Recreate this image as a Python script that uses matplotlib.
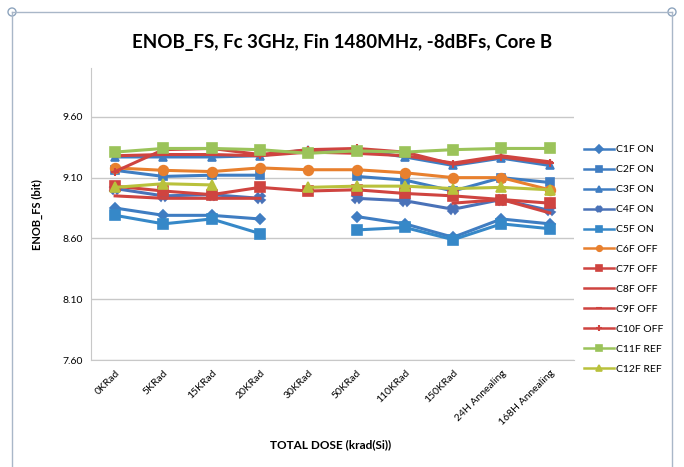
import numpy as np
import matplotlib
matplotlib.use("Agg")
import matplotlib.pyplot as plt
from matplotlib.lines import Line2D
from matplotlib.patches import Circle

nan = np.nan

categories = ["0KRad", "5KRad", "15KRad", "20KRad", "30KRad", "50KRad",
              "110KRad", "150KRad", "24H Annealing", "168H Annealing"]

c1f_on = [8.85, 8.79, 8.79, 8.76, nan, 8.78, 8.72, 8.61, 8.76, 8.72]
c2f_on = [9.16, 9.11, 9.12, 9.12, nan, 9.11, 9.08, 8.99, 9.10, 9.06]
c3f_on = [9.27, 9.27, 9.27, 9.28, 9.33, 9.33, 9.27, 9.20, 9.26, 9.20]
c4f_on = [9.01, 8.95, 8.96, 8.93, nan, 8.93, 8.91, 8.84, 8.92, 8.83]
c5f_on = [8.79, 8.72, 8.76, 8.64, nan, 8.67, 8.69, 8.59, 8.72, 8.68]
c6f_off = [9.18, 9.16, 9.15, 9.18, 9.165, 9.165, 9.14, 9.10, 9.10, 9.00]
c7f_off = [9.03, 8.99, 8.96, 9.02, 8.99, 9.00, 8.97, 8.95, 8.92, 8.89]
c8f_off = [8.95, 8.93, 8.93, 8.93, nan, nan, nan, 8.89, 8.92, 8.81]
c9f_off = [9.28, 9.29, 9.29, 9.28, 9.31, 9.30, 9.28, 9.22, 9.28, 9.23]
c10f_off = [9.15, 9.33, 9.34, 9.29, 9.33, 9.34, 9.31, 9.21, 9.27, 9.22]
c11f_ref = [9.31, 9.34, 9.34, 9.33, 9.30, 9.32, 9.31, 9.33, 9.34, 9.34]
c12f_ref = [9.02, 9.05, 9.04, nan, 9.02, 9.03, 9.03, 9.01, 9.02, 9.00]

y_ticks = [7.60, 8.10, 8.60, 9.10, 9.60]

blue = "#3F7DC2"
blue2 = "#4A72B8"
orange = "#E8802E"
red = "#CF4440"
green = "#9BC35A"
yellow = "#B9C13C"

series = [
    ("C1F ON", c1f_on, blue, "D", 5),
    ("C2F ON", c2f_on, blue, "s", 6),
    ("C3F ON", c3f_on, blue, "^", 6),
    ("C4F ON", c4f_on, blue2, "X", 7),
    ("C5F ON", c5f_on, "#3688C8", "s", 7),
    ("C6F OFF", c6f_off, orange, "o", 7),
    ("C7F OFF", c7f_off, red, "s", 7),
    ("C8F OFF", c8f_off, red, None, 0),
    ("C9F OFF", c9f_off, red, "_", 5),
    ("C10F OFF", c10f_off, red, "+", 6),
    ("C11F REF", c11f_ref, green, "s", 7),
    ("C12F REF", c12f_ref, yellow, "^", 7),
]

plt.rcParams["font.family"] = ["Lato", "DejaVu Sans"]

fig = plt.figure(figsize=(6.84, 4.67), dpi=100)
fig.patch.set_facecolor("white")
ax = fig.add_axes([0.133, 0.229, 0.706, 0.625])

x = np.arange(len(categories))
for name, vals, col, mk, ms in series:
    ax.plot(x, vals, color=col, lw=2.2, marker=mk, markersize=ms,
            markeredgewidth=1.2 if mk not in ("+", "_") else 1.5,
            label=name, zorder=3)

ax.set_xlim(-0.5, len(categories) - 0.5)
ax.set_ylim(7.60, 10.0)
ax.set_yticks(y_ticks)
ax.set_yticklabels([f"{v:.2f}" for v in y_ticks], fontsize=7.5)
ax.set_xticks(x)
ax.set_xticklabels(categories, rotation=45, ha="right", rotation_mode="anchor",
                   fontsize=7.5)
ax.tick_params(axis="both", length=0, pad=6)
ax.yaxis.grid(True, color="#C8C8C8", lw=1)
ax.set_axisbelow(True)
for side in ("top", "right"):
    ax.spines[side].set_visible(False)
ax.spines["left"].set_color("#C8C8C8")
ax.spines["bottom"].set_color("#C8C8C8")

ax.set_ylabel("ENOB_FS (bit)", fontsize=8, fontweight="bold", labelpad=14)
fig.text(0.483, 0.048, "TOTAL DOSE (krad(Si))", ha="center", va="center",
         fontsize=8.5, fontweight="bold")
fig.text(0.50, 0.91, "ENOB_FS, Fc 3GHz, Fin 1480MHz, -8dBFs, Core B",
         ha="center", va="center", fontsize=13.5, fontweight="bold")

leg = fig.legend(loc="upper left", bbox_to_anchor=(0.847, 0.698), frameon=False,
                 fontsize=7.5, handlelength=2.9, labelspacing=1.02,
                 handletextpad=0.25, borderaxespad=0)
for h in leg.legend_handles:
    h.set_markersize(4)
    h.set_linewidth(1.8)

# outer chart frame with corner handles
frame_col = "#A9B7C8"
fig.add_artist(Line2D([12 / 684, 672 / 684], [1 - 12 / 467, 1 - 12 / 467],
                      color=frame_col, lw=1, transform=fig.transFigure))
fig.add_artist(Line2D([12 / 684, 12 / 684], [1 - 12 / 467, 0],
                      color=frame_col, lw=1, transform=fig.transFigure))
fig.add_artist(Line2D([672 / 684, 672 / 684], [1 - 12 / 467, 0],
                      color=frame_col, lw=1, transform=fig.transFigure))
for cx in (12, 672):
    fig.add_artist(Circle((cx, 467 - 12), 4, transform=None, facecolor="white",
                          edgecolor="#8EA4BE", lw=1))

fig.savefig("out.png", dpi=100, facecolor="white")
